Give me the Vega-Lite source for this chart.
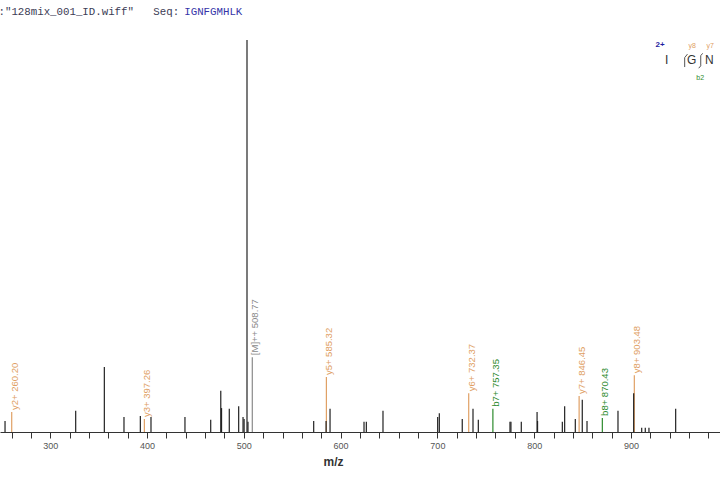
{
  "$schema": "https://vega.github.io/schema/vega-lite/v6.json",
  "width": 720,
  "height": 432,
  "autosize": "none",
  "padding": {"left": 0, "top": 0, "right": 0, "bottom": 48},
  "background": "white",
  "config": {"view": {"stroke": null}},
  "datasets": {
    "peaks": [
      {"mz": 260.20, "intensity": 5.1, "ion": "y", "label": "y2+ 260.20"},
      {"mz": 397.26, "intensity": 3.3, "ion": "y", "label": "y3+ 397.26"},
      {"mz": 508.77, "intensity": 19.1, "ion": "M", "label": "[M]++ 508.77"},
      {"mz": 585.32, "intensity": 14.0, "ion": "y", "label": "y5+ 585.32"},
      {"mz": 732.37, "intensity": 9.9, "ion": "y", "label": "y6+ 732.37"},
      {"mz": 757.35, "intensity": 5.9, "ion": "b", "label": "b7+ 757.35"},
      {"mz": 846.45, "intensity": 9.2, "ion": "y", "label": "y7+ 846.45"},
      {"mz": 870.43, "intensity": 3.6, "ion": "b", "label": "b8+ 870.43"},
      {"mz": 903.48, "intensity": 14.5, "ion": "y", "label": "y8+ 903.48"},
      {"mz": 253.3, "intensity": 2.8, "ion": "other"},
      {"mz": 326.3, "intensity": 5.4, "ion": "other"},
      {"mz": 355.9, "intensity": 16.6, "ion": "other"},
      {"mz": 376.2, "intensity": 3.8, "ion": "other"},
      {"mz": 393.1, "intensity": 4.1, "ion": "other"},
      {"mz": 404.1, "intensity": 3.8, "ion": "other"},
      {"mz": 439.2, "intensity": 3.8, "ion": "other"},
      {"mz": 465.8, "intensity": 3.1, "ion": "other"},
      {"mz": 476.2, "intensity": 10.5, "ion": "other"},
      {"mz": 477.0, "intensity": 6.1, "ion": "other"},
      {"mz": 485.0, "intensity": 5.9, "ion": "other"},
      {"mz": 494.7, "intensity": 6.6, "ion": "other"},
      {"mz": 499.2, "intensity": 3.8, "ion": "other"},
      {"mz": 500.3, "intensity": 3.3, "ion": "other"},
      {"mz": 503.3, "intensity": 100, "ion": "other"},
      {"mz": 504.3, "intensity": 2.6, "ion": "other"},
      {"mz": 572.2, "intensity": 2.8, "ion": "other"},
      {"mz": 585.0, "intensity": 2.8, "ion": "other"},
      {"mz": 589.1, "intensity": 5.9, "ion": "other"},
      {"mz": 624.2, "intensity": 2.6, "ion": "other"},
      {"mz": 626.6, "intensity": 2.6, "ion": "other"},
      {"mz": 643.8, "intensity": 5.4, "ion": "other"},
      {"mz": 700.3, "intensity": 3.8, "ion": "other"},
      {"mz": 702.0, "intensity": 4.8, "ion": "other"},
      {"mz": 725.7, "intensity": 3.3, "ion": "other"},
      {"mz": 736.8, "intensity": 5.9, "ion": "other"},
      {"mz": 742.3, "intensity": 3.1, "ion": "other"},
      {"mz": 775.0, "intensity": 2.6, "ion": "other"},
      {"mz": 776.0, "intensity": 2.6, "ion": "other"},
      {"mz": 786.7, "intensity": 2.6, "ion": "other"},
      {"mz": 803.0, "intensity": 5.1, "ion": "other"},
      {"mz": 803.5, "intensity": 2.8, "ion": "other"},
      {"mz": 829.1, "intensity": 2.6, "ion": "other"},
      {"mz": 831.5, "intensity": 6.6, "ion": "other"},
      {"mz": 842.5, "intensity": 3.3, "ion": "other"},
      {"mz": 849.7, "intensity": 8.2, "ion": "other"},
      {"mz": 854.6, "intensity": 2.8, "ion": "other"},
      {"mz": 886.6, "intensity": 5.4, "ion": "other"},
      {"mz": 902.8, "intensity": 9.9, "ion": "other"},
      {"mz": 911.1, "intensity": 1.1, "ion": "other"},
      {"mz": 914.8, "intensity": 1.1, "ion": "other"},
      {"mz": 918.6, "intensity": 1.1, "ion": "other"},
      {"mz": 946.2, "intensity": 5.9, "ion": "other"}
    ],
    "anno": [
      {"text": ":\"128mix_001_ID.wiff\"\u00a0\u00a0\u00a0Seq:", "mz": 248.1, "inten": 107.1, "ion": "title", "kind": "header"},
      {"text": "IGNFGMHLK", "mz": 440.0, "inten": 107.1, "ion": "seq", "kind": "header"},
      {"text": "2+", "mz": 930.0, "inten": 98.6, "ion": "charge", "kind": "charge"},
      {"text": "I", "mz": 936.9, "inten": 94.9, "ion": "residue", "kind": "residue"},
      {"text": "G", "mz": 962.8, "inten": 94.9, "ion": "residue", "kind": "residue"},
      {"text": "N", "mz": 981.0, "inten": 94.9, "ion": "residue", "kind": "residue"},
      {"text": "y8", "mz": 963.3, "inten": 98.5, "ion": "y", "kind": "ionlabel"},
      {"text": "y7", "mz": 982.0, "inten": 98.5, "ion": "y", "kind": "ionlabel"},
      {"text": "b2", "mz": 971.5, "inten": 90.4, "ion": "b", "kind": "ionlabel"}
    ],
    "cuts": [
      {"mz": 955.5, "inten": 95.5, "mz2": 955.5, "inten2": 93.1},
      {"mz": 955.5, "inten": 95.5, "mz2": 958.4, "inten2": 96.4},
      {"mz": 972.1, "inten": 96.0, "mz2": 972.1, "inten2": 93.4},
      {"mz": 972.1, "inten": 96.0, "mz2": 974.1, "inten2": 96.6},
      {"mz": 972.1, "inten": 93.4, "mz2": 970.0, "inten2": 92.8}
    ]
  },
  "layer": [
    {
      "data": {"name": "peaks"},
      "mark": {"type": "rule", "strokeWidth": 1.2},
      "encoding": {
        "x": {
          "field": "mz", "type": "quantitative",
          "scale": {"domain": [248.1, 992], "nice": false, "zero": false},
          "axis": {
            "values": [260, 280, 300, 320, 340, 360, 380, 400, 420, 440, 460, 480, 500, 520, 540, 560, 580, 600, 620, 640, 660, 680, 700, 720, 740, 760, 780, 800, 820, 840, 860, 880, 900, 920, 940, 960, 980],
            "tickCount": 60,
            "labelExpr": "datum.value % 100 === 0 ? datum.label : ''",
            "format": "d",
            "grid": false,
            "domainColor": "#333333",
            "tickColor": "#333333",
            "tickSize": 6,
            "labelFontSize": 9,
            "labelColor": "#555555",
            "labelFont": "Liberation Sans",
            "labelPadding": 3,
            "labelFlush": false,
            "labelOverlap": false,
            "title": "m/z",
            "titleFont": "Liberation Sans",
            "titleFontSize": 12,
            "titleFontWeight": "bold",
            "titleColor": "#333333",
            "titlePadding": 6,
            "titleX": 333
          }
        },
        "y": {"field": "intensity", "type": "quantitative", "scale": {"domain": [0, 110.2], "nice": false}, "axis": null},
        "y2": {"datum": 0},
        "color": {
          "field": "ion", "type": "nominal",
          "scale": {
            "domain": ["y", "b", "M", "other", "title", "seq", "charge", "residue"],
            "range": ["#E0A064", "#2E8B2E", "#8A8A8A", "#222222", "#3C3C55", "#3434A8", "#1E1EA0", "#333333"]
          },
          "legend": null
        }
      }
    },
    {
      "data": {"name": "peaks"},
      "transform": [{"filter": "datum.label != null"}],
      "mark": {"type": "text", "angle": 270, "align": "left", "baseline": "middle", "dx": 2, "dy": 3, "fontSize": 9.5, "font": "Liberation Sans"},
      "encoding": {
        "x": {"field": "mz", "type": "quantitative"},
        "y": {"field": "intensity", "type": "quantitative"},
        "text": {"field": "label"},
        "color": {"field": "ion", "type": "nominal", "legend": null}
      }
    },
    {
      "data": {"name": "anno"},
      "transform": [{"filter": "datum.kind === 'header'"}],
      "mark": {"type": "text", "align": "left", "baseline": "middle", "dx": -1.5, "fontSize": 10.75, "font": "Liberation Mono", "clip": false},
      "encoding": {
        "x": {"field": "mz", "type": "quantitative"},
        "y": {"field": "inten", "type": "quantitative"},
        "text": {"field": "text"},
        "color": {"field": "ion", "type": "nominal", "legend": null}
      }
    },
    {
      "data": {"name": "anno"},
      "transform": [{"filter": "datum.kind === 'residue'"}],
      "mark": {"type": "text", "align": "center", "baseline": "middle", "fontSize": 12, "font": "Liberation Sans"},
      "encoding": {
        "x": {"field": "mz", "type": "quantitative"},
        "y": {"field": "inten", "type": "quantitative"},
        "text": {"field": "text"},
        "color": {"field": "ion", "type": "nominal", "legend": null}
      }
    },
    {
      "data": {"name": "anno"},
      "transform": [{"filter": "datum.kind === 'charge'"}],
      "mark": {"type": "text", "align": "center", "baseline": "middle", "fontSize": 8, "fontWeight": "bold", "font": "Liberation Sans"},
      "encoding": {
        "x": {"field": "mz", "type": "quantitative"},
        "y": {"field": "inten", "type": "quantitative"},
        "text": {"field": "text"},
        "color": {"field": "ion", "type": "nominal", "legend": null}
      }
    },
    {
      "data": {"name": "anno"},
      "transform": [{"filter": "datum.kind === 'ionlabel'"}],
      "mark": {"type": "text", "align": "center", "baseline": "middle", "fontSize": 7, "font": "Liberation Sans"},
      "encoding": {
        "x": {"field": "mz", "type": "quantitative"},
        "y": {"field": "inten", "type": "quantitative"},
        "text": {"field": "text"},
        "color": {"field": "ion", "type": "nominal", "legend": null}
      }
    },
    {
      "data": {"name": "cuts"},
      "mark": {"type": "rule", "color": "#555555", "strokeWidth": 1},
      "encoding": {
        "x": {"field": "mz", "type": "quantitative"},
        "y": {"field": "inten", "type": "quantitative"},
        "x2": {"field": "mz2"},
        "y2": {"field": "inten2"}
      }
    }
  ]
}
